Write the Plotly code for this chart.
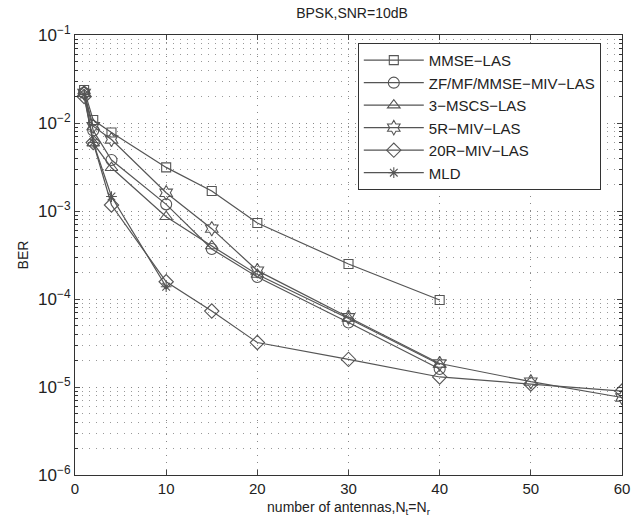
import plotly.graph_objects as go

# ---- data ----
x_mmse = [1, 2, 4, 10, 15, 20, 30, 40]
y_mmse = [0.0237, 0.0108, 0.0078, 0.00313, 0.00169, 0.00073, 0.00025, 0.0000975]

x_zf = [1, 2, 4, 10, 15, 20, 30, 40]
y_zf = [0.022, 0.0082, 0.0038, 0.00119, 0.00037, 0.000178, 0.000054, 0.000016]

x_msc = [1, 2, 4, 10, 15, 20, 30, 40]
y_msc = [0.023, 0.0059, 0.0031, 0.00086, 0.00040, 0.00019, 0.000060, 0.000018]

x_5r = [1, 2, 4, 10, 15, 20, 30, 40, 50, 60]
y_5r = [0.022, 0.0092, 0.0065, 0.00161, 0.00063, 0.00021, 0.000062, 0.0000185, 0.0000115, 0.0000076]

x_20r = [1, 2, 4, 10, 15, 20, 30, 40, 50, 60]
y_20r = [0.020, 0.0060, 0.00117, 0.000157, 0.000073, 0.000032, 0.0000206, 0.000013, 0.0000108, 0.0000090]

x_mld = [1, 2, 4, 10]
y_mld = [0.021, 0.0060, 0.00146, 0.000138]

names = ["MMSE\u2212LAS", "ZF/MF/MMSE\u2212MIV\u2212LAS", "3\u2212MSCS\u2212LAS",
         "5R\u2212MIV\u2212LAS", "20R\u2212MIV\u2212LAS", "MLD"]
symbols = ["square-open", "circle-open", "triangle-up-open", "hexagram-open",
           "diamond-open", "asterisk-open"]
sizes = [9, 11, 11, 11, 11, 9]

x_ticks = [0, 10, 20, 30, 40, 50, 60]
y_ticks = [1e-6, 1e-5, 1e-4, 1e-3, 1e-2, 1e-1]
y_ticktext = ["10<sup>\u22126</sup>", "10<sup>\u22125</sup>", "10<sup>\u22124</sup>",
              "10<sup>\u22123</sup>", "10<sup>\u22122</sup>", "10<sup>\u22121</sup>"]

series = [(x_mmse, y_mmse), (x_zf, y_zf), (x_msc, y_msc),
          (x_5r, y_5r), (x_20r, y_20r), (x_mld, y_mld)]

line_col = "#555555"
fig = go.Figure()
for (xs, ys), nm, sym, sz in zip(series, names, symbols, sizes):
    fig.add_trace(go.Scatter(
        x=xs, y=ys, name=nm, mode="lines+markers",
        line=dict(color=line_col, width=1.2),
        marker=dict(symbol=sym, size=sz, color=line_col,
                    line=dict(color=line_col, width=1.1)),
    ))

minor_y = [m * 10.0 ** e for e in range(-6, -1) for m in range(2, 10)]

font_main = "Liberation Sans, Arial, sans-serif"
grid_dash = "1px,6px"
fig.update_layout(
    width=640, height=525,
    margin=dict(l=75, r=10, t=35, b=50),
    paper_bgcolor="white", plot_bgcolor="white",
    font=dict(family=font_main, size=14, color="#222"),
    title=dict(text="BPSK,SNR=10dB", x=0.55, xanchor="center", y=0.985,
               yanchor="top", font=dict(size=14, color="#222")),
    showlegend=True,
    legend=dict(x=0.517, y=0.982, xanchor="left", yanchor="top",
                bgcolor="white", bordercolor="#333", borderwidth=1,
                font=dict(size=15, color="#222"), tracegroupgap=0,
                itemwidth=60),
)
fig.update_xaxes(
    range=[0, 60], tickvals=x_ticks, ticks="inside", ticklen=5,
    showline=True, linecolor="#333", linewidth=1, mirror="allticks",
    showgrid=True, gridcolor="#888", griddash=grid_dash, gridwidth=1,
    zeroline=False, tickfont=dict(size=15),
    title=dict(text="number of antennas,N<sub>t</sub>=N<sub>r</sub>",
               font=dict(size=14), standoff=6),
)
fig.update_yaxes(
    type="log", range=[-6, -1], tickvals=y_ticks, ticktext=y_ticktext,
    ticks="inside", ticklen=5,
    showline=True, linecolor="#333", linewidth=1, mirror="allticks",
    showgrid=True, gridcolor="#888", griddash=grid_dash, gridwidth=1,
    zeroline=False, tickfont=dict(size=17),
    minor=dict(tickvals=minor_y, ticks="inside", ticklen=3, tickcolor="#333",
               showgrid=True, gridcolor="#999", griddash=grid_dash, gridwidth=1),
    title=dict(text="BER", font=dict(size=14), standoff=6),
)

fig.write_html("out.html")
